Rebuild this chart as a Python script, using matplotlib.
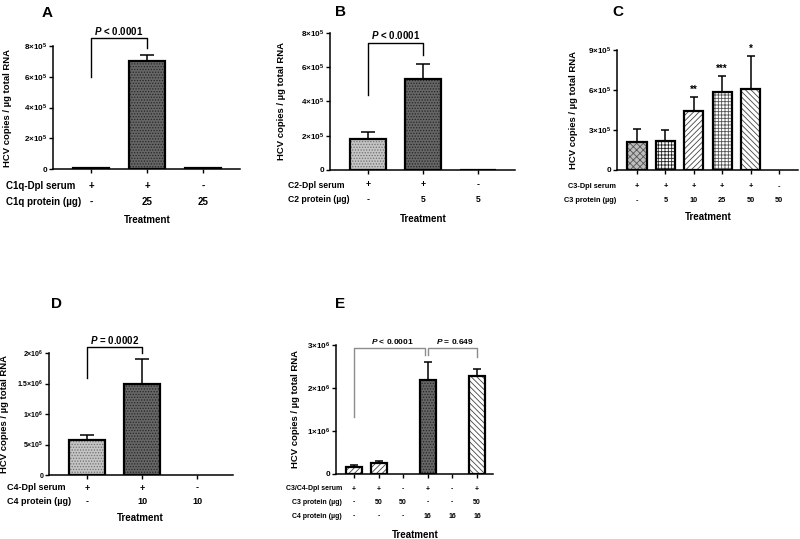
import matplotlib
matplotlib.use('Agg')
import matplotlib.pyplot as plt
import matplotlib.transforms as mtransforms

plt.rcParams.update({
    'font.family': ['Liberation Sans', 'DejaVu Sans'],
    'font.weight': 'bold',
    'mathtext.fontset': 'custom',
    'mathtext.rm': 'Liberation Sans:bold',
    'mathtext.it': 'Liberation Sans:italic:bold',
    'mathtext.bf': 'Liberation Sans:bold',
    'hatch.linewidth': 0.6,
    'axes.linewidth': 1.1,
})

W, H = 800, 539

# --- data ---
a_vals = [5e3, 7.0e5, 8e3]
a_errs = [0, 0.4e5, 0]
a_serum = ['+', '+', '-']
a_prot = ['-', '25', '25']

b_vals = [1.8e5, 5.3e5, 2e3]
b_errs = [0.4e5, 0.9e5, 0]
b_serum = ['+', '+', '-']
b_prot = ['-', '5', '5']

c_vals = [2.1e5, 2.2e5, 4.4e5, 5.85e5, 6.05e5, 0]
c_errs = [0.95e5, 0.8e5, 1.1e5, 1.2e5, 2.5e5, 0]
c_stars = ['', '', '**', '***', '*', '']
c_serum = ['+', '+', '+', '+', '+', '-']
c_prot = ['-', '5', '10', '25', '50', '50']

d_vals = [5.8e5, 1.5e6, 0]
d_errs = [0.8e5, 0.4e6, 0]
d_serum = ['+', '+', '-']
d_prot = ['-', '10', '10']

e_vals = [1.6e5, 2.6e5, 0, 2.18e6, 0, 2.27e6]
e_errs = [0.6e5, 0.4e5, 0, 0.42e6, 0, 0.17e6]
e_serum = ['+', '+', '-', '+', '-', '+']
e_c3 = ['-', '50', '50', '-', '-', '50']
e_c4 = ['-', '-', '-', '16', '16', '16']

LIGHT = dict(fc='#c4c4c4', hatch='......', hc='#707070')
DARK = dict(fc='#666666', hatch='......', hc='#262626')
CROSS = dict(fc='#bdbdbd', hatch='xxxxx', hc='#555555')
CHECK = dict(fc='white', hatch='+++++', hc='#222222')
FWD = dict(fc='white', hatch='//////', hc='#444444')
GRID = dict(fc='white', hatch='+++++', hc='#555555')
BACK = dict(fc='white', hatch='\\\\\\\\\\\\', hc='#444444')
NONE = dict(fc='white', hatch='', hc='black')

fig = plt.figure(figsize=(W / 100, H / 100), dpi=100)


def make_axes(left, right, y0, ytop, ymax, c0, step, tsize=5.8):
    ax = fig.add_axes([left / W, 1 - y0 / H, (right - left) / W, (y0 - ytop) / H])
    ax.set_ylim(0, ymax)
    ax.set_xlim((left - c0) / step, (right - c0) / step)
    for s in ['top', 'right']:
        ax.spines[s].set_visible(False)
    ax.tick_params(axis='both', length=3, width=1.0, labelsize=tsize, pad=1)
    return ax


def draw_bars(ax, vals, errs, styles, width, cap):
    xs = list(range(len(vals)))
    for x, v, e, st in zip(xs, vals, errs, styles):
        if v <= 0:
            continue
        if e > 0:
            ax.errorbar(x, v, yerr=[[0], [e]], fmt='none', ecolor='black',
                        elinewidth=1.1, capsize=cap, capthick=1.1, zorder=1)
        ax.bar(x, v, width, color=st['fc'], edgecolor=st['hc'],
               hatch=st['hatch'], linewidth=0, zorder=2)
        ax.bar(x, v, width, fill=False, edgecolor='black', linewidth=1.6, zorder=3)
    ax.set_xticks(xs)
    ax.set_xticklabels([])


def yticks(ax, vals, labels):
    ax.set_yticks(vals)
    ax.set_yticklabels(labels)


def rows(ax, labels, rowvals, ys, lab_x, ha, size, treat_y, treat_x):
    tr = mtransforms.blended_transform_factory(ax.transData, fig.transFigure)
    for lab, vals, y in zip(labels, rowvals, ys):
        fig.text(lab_x / W, 1 - y / H, lab, ha=ha, va='center', fontsize=size)
        for i, v in enumerate(vals):
            ax.text(i, 1 - y / H, v, transform=tr, ha='center', va='center',
                    fontsize=size, clip_on=False)
    fig.text(treat_x / W, 1 - treat_y / H, 'Treatment', ha='center', va='center', fontsize=7)


def bracket(ax, x1, x2, top, b1, b2, text, tx, ty, color='black', size=7):
    ax.plot([x1, x1, x2, x2], [b1, top, top, b2], color=color, lw=1.0, clip_on=False)
    ax.text(tx, ty, text, ha='center', va='center', fontsize=size, clip_on=False)


def ylabel(ax, x):
    pos = ax.get_position()
    fig.text(x / W, (pos.y0 + pos.y1) / 2, 'HCV copies / \u00b5g total RNA',
             rotation=90, ha='center', va='center', fontsize=6.8)


# ---------------- Panel A ----------------
axA = make_axes(53, 240, 169, 46, 8e5, 91, 56)
draw_bars(axA, a_vals, a_errs, [LIGHT, DARK, LIGHT], 0.66, 4.7)
yticks(axA, [0, 2e5, 4e5, 6e5, 8e5],
       ['0', r'2$\times$10$^5$', r'4$\times$10$^5$', r'6$\times$10$^5$', r'8$\times$10$^5$'])
ylabel(axA, 8)
rows(axA, ['C1q-Dpl serum', 'C1q protein (\u00b5g)'], [a_serum, a_prot], [186, 202],
     6, 'left', 7, 220, 147)
bracket(axA, 0, 1, 8.52e5, 6.0e5, 7.9e5, r'$P$ < 0.0001', 0.5, 8.95e5)
fig.text(47 / W, 1 - 13 / H, 'A', ha='center', va='center', fontsize=11)

# ---------------- Panel B ----------------
axB = make_axes(330, 515, 170, 33, 8e5, 368, 55)
draw_bars(axB, b_vals, b_errs, [LIGHT, DARK, LIGHT], 0.65, 4.7)
yticks(axB, [0, 2e5, 4e5, 6e5, 8e5],
       ['0', r'2$\times$10$^5$', r'4$\times$10$^5$', r'6$\times$10$^5$', r'8$\times$10$^5$'])
ylabel(axB, 282)
rows(axB, ['C2-Dpl serum', 'C2 protein (\u00b5g)'], [b_serum, b_prot], [185, 200],
     288, 'left', 6.2, 219, 423)
bracket(axB, 0, 1, 7.42e5, 4.38e5, 6.7e5, r'$P$ < 0.0001', 0.5, 7.9e5)
fig.text(340 / W, 1 - 12 / H, 'B', ha='center', va='center', fontsize=11)

# ---------------- Panel C ----------------
axC = make_axes(617, 798, 170, 50, 9e5, 637, 28.4)
draw_bars(axC, c_vals, c_errs, [CROSS, CHECK, FWD, GRID, BACK, NONE], 0.67, 2.6)
yticks(axC, [0, 3e5, 6e5, 9e5],
       ['0', r'3$\times$10$^5$', r'6$\times$10$^5$', r'9$\times$10$^5$'])
for i, (v, e, s) in enumerate(zip(c_vals, c_errs, c_stars)):
    if s:
        axC.text(i, v + e + 1.5e4, s, ha='center', va='bottom', fontsize=7, clip_on=False)
ylabel(axC, 573)
rows(axC, ['C3-Dpl serum', 'C3 protein (\u00b5g)'], [c_serum, c_prot], [187, 201],
     616, 'right', 5.3, 217, 708)
fig.text(618 / W, 1 - 12 / H, 'C', ha='center', va='center', fontsize=11)

# ---------------- Panel D ----------------
axD = make_axes(49, 233, 475, 353, 2e6, 87, 55, tsize=5)
draw_bars(axD, d_vals, d_errs, [LIGHT, DARK, LIGHT], 0.64, 4.7)
yticks(axD, [0, 5e5, 1e6, 1.5e6, 2e6],
       ['0', r'5$\times$10$^5$', r'1$\times$10$^6$', r'1.5$\times$10$^6$', r'2$\times$10$^6$'])
ylabel(axD, 5)
rows(axD, ['C4-Dpl serum', 'C4 protein (\u00b5g)'], [d_serum, d_prot], [488, 502],
     7, 'left', 6.5, 518, 140)
bracket(axD, 0, 1, 2.10e6, 1.59e6, 2.0e6, r'$P$ = 0.0002', 0.5, 2.22e6)
fig.text(56 / W, 1 - 304 / H, 'D', ha='center', va='center', fontsize=11)

# ---------------- Panel E ----------------
axE = make_axes(336, 493, 474, 345, 3e6, 354, 24.6)
draw_bars(axE, e_vals, e_errs, [FWD, FWD, NONE, DARK, NONE, BACK], 0.65, 3)
yticks(axE, [0, 1e6, 2e6, 3e6],
       ['0', r'1$\times$10$^6$', r'2$\times$10$^6$', r'3$\times$10$^6$'])
ylabel(axE, 296)
rows(axE, ['C3/C4-Dpl serum', 'C3 protein (\u00b5g)', 'C4 protein (\u00b5g)'],
     [e_serum, e_c3, e_c4], [489, 502, 516], 342, 'right', 5, 535, 415)
bracket(axE, 0, 2.89, 2.93e6, 1.33e6, 2.77e6, r'$P$ < 0.0001', 1.55, 3.09e6,
        color='#8c8c8c', size=6)
bracket(axE, 3.02, 5, 2.93e6, 2.77e6, 2.72e6, r'$P$ = 0.649', 4.1, 3.09e6,
        color='#8c8c8c', size=6)
fig.text(340 / W, 1 - 304 / H, 'E', ha='center', va='center', fontsize=11)

fig.savefig('out.png', dpi=100)
